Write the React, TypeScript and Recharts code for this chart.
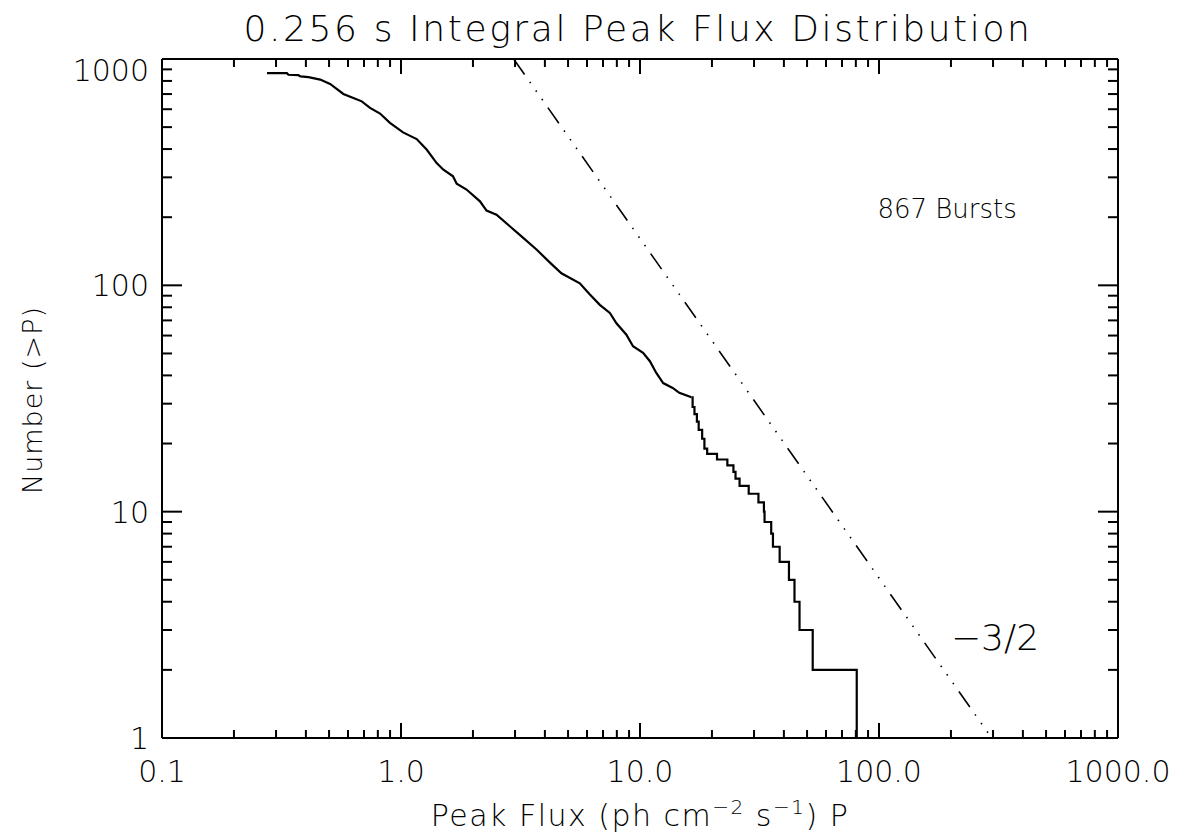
import React from "react";
import {
  LineChart,
  Line,
  XAxis,
  YAxis,
  ReferenceDot,
  Customized,
} from "recharts";

const FONT = '"DejaVu Sans ExtraLight", "DejaVu Sans", sans-serif';
const WEIGHT = 200;

// N(>P), upper (dense) part of the cumulative curve
const fluxUpper = [
  0.275, 0.333, 0.338, 0.372, 0.38, 0.41, 0.459, 0.505, 0.538, 0.574, 0.632,
  0.685, 0.742, 0.817, 0.899, 1.02, 1.163, 1.28, 1.41, 1.5, 1.65, 1.71, 1.88,
  2.14, 2.28, 2.51, 2.86, 3.14, 3.69, 4.2, 4.69, 5.6, 6.17, 6.79, 7.48, 7.97,
  8.77, 9.35, 10.3, 11.0, 11.7, 12.5, 13.7, 14.6, 16.1, 16.4,
];
const countUpper = [
  867, 866, 852, 848, 838, 832, 811, 776, 738, 701, 673, 650, 608, 574, 522,
  474, 443, 398, 347, 325, 303, 281, 265, 235, 214, 205, 182, 167, 144, 126,
  113, 102, 91, 82, 75.5, 68, 60.5, 53.8, 50.3, 46.2, 41, 37, 35.2, 33.5, 32.3,
  32,
];

// bright tail, individual bursts -> steps
const fluxTail = [
  16.4, 16.6, 16.9, 17.3, 17.6, 18.2, 18.6, 19.1, 21.0, 23.2, 24.6, 25.1, 26.1,
  28.5, 31.3, 33.0, 33.2, 35.4, 36.0, 38.4, 42.0, 44.3, 46.5, 52.8, 80.7,
];
const countTail = [
  32, 29, 27, 25, 23, 21, 19, 18, 17, 16, 15, 14, 13, 12, 11, 10, 9, 8, 7, 6, 5,
  4, 3, 2, 1,
];

// -3/2 reference slope, end points
const slopeFlux = [2.96, 296];
const slopeCount = [1000, 1];

const xMajor = [0.1, 1, 10, 100, 1000];
const xMajorLabels = ["0.1", "1.0", "10.0", "100.0", "1000.0"];
const yMajor = [1, 10, 100, 1000];
const yMajorLabels = ["1", "10", "100", "1000"];
const minorSteps = [2, 3, 4, 5, 6, 7, 8, 9];

const upperData = fluxUpper.map((p, i) => ({ p, n: countUpper[i] }));
const tailData = fluxTail.map((p, i) => ({ p, n: countTail[i] }));
const slopeData = slopeFlux.map((p, i) => ({ p, n: slopeCount[i] }));

const withMinors = (majors: number[]) => {
  const out: number[] = [];
  majors.forEach((m, i) => {
    out.push(m);
    if (i < majors.length - 1) minorSteps.forEach((s) => out.push(m * s));
  });
  return out;
};
const xTicks = withMinors(xMajor);
const yTicks = withMinors(yMajor);

const majorIndex = (v: number, majors: number[]) =>
  majors.findIndex((m) => Math.abs(v / m - 1) < 1e-6);

const W = 1169;
const H = 827;

const BottomTick = (props: any) => {
  const { x, y, payload } = props;
  const i = majorIndex(payload.value, xMajor);
  return (
    <g>
      <line x1={x} x2={x} y1={y} y2={y - (i >= 0 ? 15 : 8)} stroke="#000" strokeWidth={2} />
      {i >= 0 && (
        <text
          x={x}
          y={y + 44}
          textAnchor="middle"
          fontFamily={FONT}
          fontWeight={WEIGHT}
          fontSize={30}
          fill="#000"
        >
          {xMajorLabels[i]}
        </text>
      )}
    </g>
  );
};

const TopTick = (props: any) => {
  const { x, y, payload } = props;
  const i = majorIndex(payload.value, xMajor);
  return <line x1={x} x2={x} y1={y} y2={y + (i >= 0 ? 15 : 8)} stroke="#000" strokeWidth={2} />;
};

const LeftTick = (props: any) => {
  const { x, y, payload } = props;
  const i = majorIndex(payload.value, yMajor);
  // the top label sits a bit below its tick in the original
  const shift = payload.value >= 999 ? 11 : 0;
  return (
    <g>
      <line x1={x} x2={x + (i >= 0 ? 20 : 10)} y1={y} y2={y} stroke="#000" strokeWidth={2} />
      {i >= 0 && (
        <text
          x={x - 13}
          y={y + 11 + shift}
          textAnchor="end"
          fontFamily={FONT}
          fontWeight={WEIGHT}
          fontSize={30}
          fill="#000"
        >
          {yMajorLabels[i]}
        </text>
      )}
    </g>
  );
};

const RightTick = (props: any) => {
  const { x, y, payload } = props;
  const i = majorIndex(payload.value, yMajor);
  return <line x1={x} x2={x - (i >= 0 ? 20 : 10)} y1={y} y2={y} stroke="#000" strokeWidth={2} />;
};

const Titles = () => (
  <g fontFamily={FONT} fontWeight={WEIGHT} fill="#000">
    <text x={630} y={33} textAnchor="middle" fontSize={36} letterSpacing={2.6}>
      0.256 s Integral Peak Flux Distribution
    </text>
    <text x={632} y={818} textAnchor="middle" fontSize={30} letterSpacing={1.5}>
      Peak Flux (ph cm
      <tspan fontSize={20} dy={-12}>−2</tspan>
      <tspan dy={12}> s</tspan>
      <tspan fontSize={20} dy={-12}>−1</tspan>
      <tspan dy={12}>) P</tspan>
    </text>
    <text
      transform="translate(34,392) rotate(-90)"
      textAnchor="middle"
      fontSize={27}
      letterSpacing={1}
    >
      Number (&gt;P)
    </text>
  </g>
);

const noteLabel = (text: string, size: number) => (props: any) => {
  const { viewBox } = props;
  return (
    <text
      x={viewBox.x + 1}
      y={viewBox.y + 1}
      fontFamily={FONT}
      fontWeight={WEIGHT}
      fontSize={size}
      fill="#000"
    >
      {text}
    </text>
  );
};

const axisStroke = { stroke: "#000", strokeWidth: 2 };

export default function App() {
  return (
    <div style={{ width: W, height: H, background: "#fff" }}>
      <LineChart width={W} height={H} margin={{ top: 0, right: 0, bottom: 0, left: 0 }}>
        <XAxis
          dataKey="p"
          type="number"
          scale="log"
          domain={[0.1, 1000]}
          allowDataOverflow
          ticks={xTicks}
          interval={0}
          tick={BottomTick}
          tickLine={false}
          tickSize={0}
          tickMargin={0}
          axisLine={axisStroke}
          height={97}
        />
        <XAxis
          xAxisId="top"
          orientation="top"
          dataKey="p"
          type="number"
          scale="log"
          domain={[0.1, 1000]}
          allowDataOverflow
          ticks={xTicks}
          interval={0}
          tick={TopTick}
          tickLine={false}
          tickSize={0}
          tickMargin={0}
          axisLine={axisStroke}
          height={51}
        />
        <YAxis
          dataKey="n"
          type="number"
          scale="log"
          domain={[1, 1000]}
          allowDataOverflow
          ticks={yTicks}
          interval={0}
          tick={LeftTick}
          tickLine={false}
          tickSize={0}
          tickMargin={0}
          axisLine={axisStroke}
          width={154}
        />
        <YAxis
          yAxisId="right"
          orientation="right"
          dataKey="n"
          type="number"
          scale="log"
          domain={[1, 1000]}
          allowDataOverflow
          ticks={yTicks}
          interval={0}
          tick={RightTick}
          tickLine={false}
          tickSize={0}
          tickMargin={0}
          axisLine={axisStroke}
          width={59}
        />
        <Line
          data={slopeData}
          dataKey="n"
          type="linear"
          stroke="#000"
          strokeWidth={1.6}
          strokeDasharray="19 9 1.5 9 1.5 9 1.5 9"
          dot={false}
          activeDot={false}
          isAnimationActive={false}
        />
        <Line
          data={upperData}
          dataKey="n"
          type="linear"
          stroke="#000"
          strokeWidth={2.2}
          dot={false}
          activeDot={false}
          isAnimationActive={false}
        />
        <Line
          data={tailData}
          dataKey="n"
          type="stepAfter"
          stroke="#000"
          strokeWidth={2.2}
          dot={false}
          activeDot={false}
          isAnimationActive={false}
        />
        <ReferenceDot
          x={98.5}
          y={199}
          r={1}
          fill="none"
          stroke="none"
          label={noteLabel("867 Bursts", 26)}
        />
        <ReferenceDot
          x={200}
          y={2.46}
          r={1}
          fill="none"
          stroke="none"
          label={noteLabel("−3/2", 36)}
        />
        <Customized component={<Titles />} />
      </LineChart>
    </div>
  );
}
